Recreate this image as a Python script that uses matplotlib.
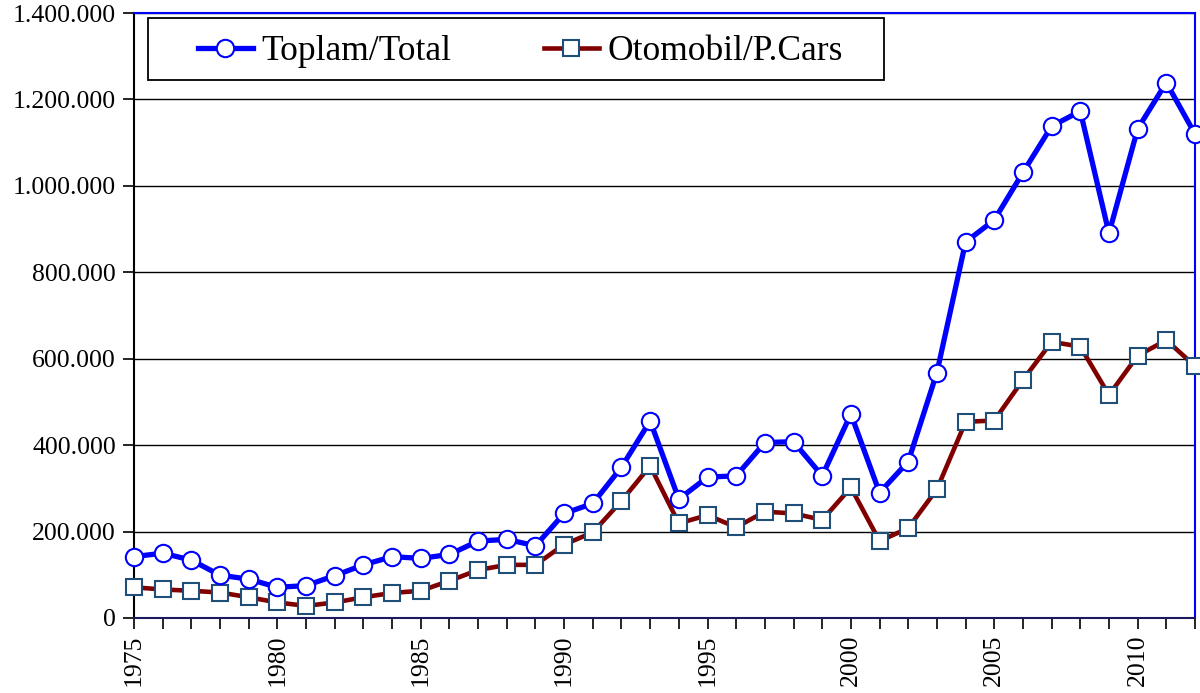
import matplotlib
matplotlib.use("Agg")
import matplotlib.pyplot as plt
from matplotlib.ticker import FuncFormatter, MultipleLocator
from matplotlib.patches import Rectangle

years = list(range(1975, 2013))
toplam = [142000, 150000, 134000, 99000, 90000, 71000, 75000, 98000, 123000, 142000,
          138000, 147000, 178000, 182000, 167000, 242000, 265000, 349000, 456000, 275000,
          326000, 329000, 406000, 408000, 329000, 472000, 290000, 362000, 568000, 870000,
          921000, 1031000, 1138000, 1173000, 890000, 1132000, 1239000, 1120000]
otomobil = [71000, 66000, 63000, 59000, 48000, 36000, 28000, 36000, 48000, 58000,
            63000, 86000, 111000, 123000, 123000, 170000, 198000, 271000, 352000, 219000,
            238000, 210000, 246000, 242000, 227000, 302000, 178000, 208000, 298000, 454000,
            457000, 551000, 639000, 628000, 516000, 607000, 643000, 583000]
labels = ["Toplam/Total", "Otomobil/P.Cars"]

plt.rcParams['font.family'] = ['Liberation Serif', 'DejaVu Serif']

fig = plt.figure(figsize=(12, 6.93), dpi=100)
ax = fig.add_axes([134/1200, 75/693, 1061/1200, 605/693])

ax.plot(years, toplam, color='#0000FF', lw=3.8, marker='o', ms=12.5,
        mfc='white', mec='#0000FF', mew=1.5, label=labels[0], zorder=4, clip_on=False)
ax.plot(years, otomobil, color='#800000', lw=3.3, marker='s', ms=12,
        mfc='white', mec='#1F4E79', mew=1.5, label=labels[1], zorder=3, clip_on=False)

ax.set_xlim(1975, 2012)
ax.set_ylim(0, 1400000)
ax.yaxis.set_major_locator(MultipleLocator(200000))
ax.yaxis.set_major_formatter(FuncFormatter(lambda v, p: f"{v:,.0f}".replace(",", ".")))
ax.set_xticks(years)
ax.set_xticklabels([str(y) if (y - 1975) % 5 == 0 else "" for y in years], rotation=90)
ax.grid(axis='y', color='black', lw=1.0, zorder=1)
ax.set_axisbelow(True)
ax.tick_params(axis='both', direction='out', length=8, width=1.2, labelsize=18.5, colors='black')
ax.tick_params(axis='y', pad=5)
ax.tick_params(axis='x', pad=4)

ax.spines['left'].set_color('black')
ax.spines['left'].set_linewidth(1.5)
ax.spines['bottom'].set_color('#1a1a5e')
ax.spines['bottom'].set_linewidth(1.5)
ax.spines['top'].set_color('#0000FF')
ax.spines['right'].set_color('#0000FF')
ax.spines['top'].set_linewidth(1.5)
ax.spines['right'].set_linewidth(1.5)

# legend frame
frame = Rectangle((14/1061, 538/605), 736/1061, 62/605, transform=ax.transAxes,
                  facecolor='white', edgecolor='black', lw=1.3, zorder=9)
ax.add_patch(frame)

leg = ax.legend(loc='center left', bbox_to_anchor=((198 - 134)/1061, (618 - 52)/605),
                ncol=2, fontsize=25.5, frameon=False, handlelength=1.55,
                borderaxespad=0, borderpad=0, columnspacing=2.6, handletextpad=0.25)
leg.set_zorder(10)

fig.savefig("out.png", dpi=100)
